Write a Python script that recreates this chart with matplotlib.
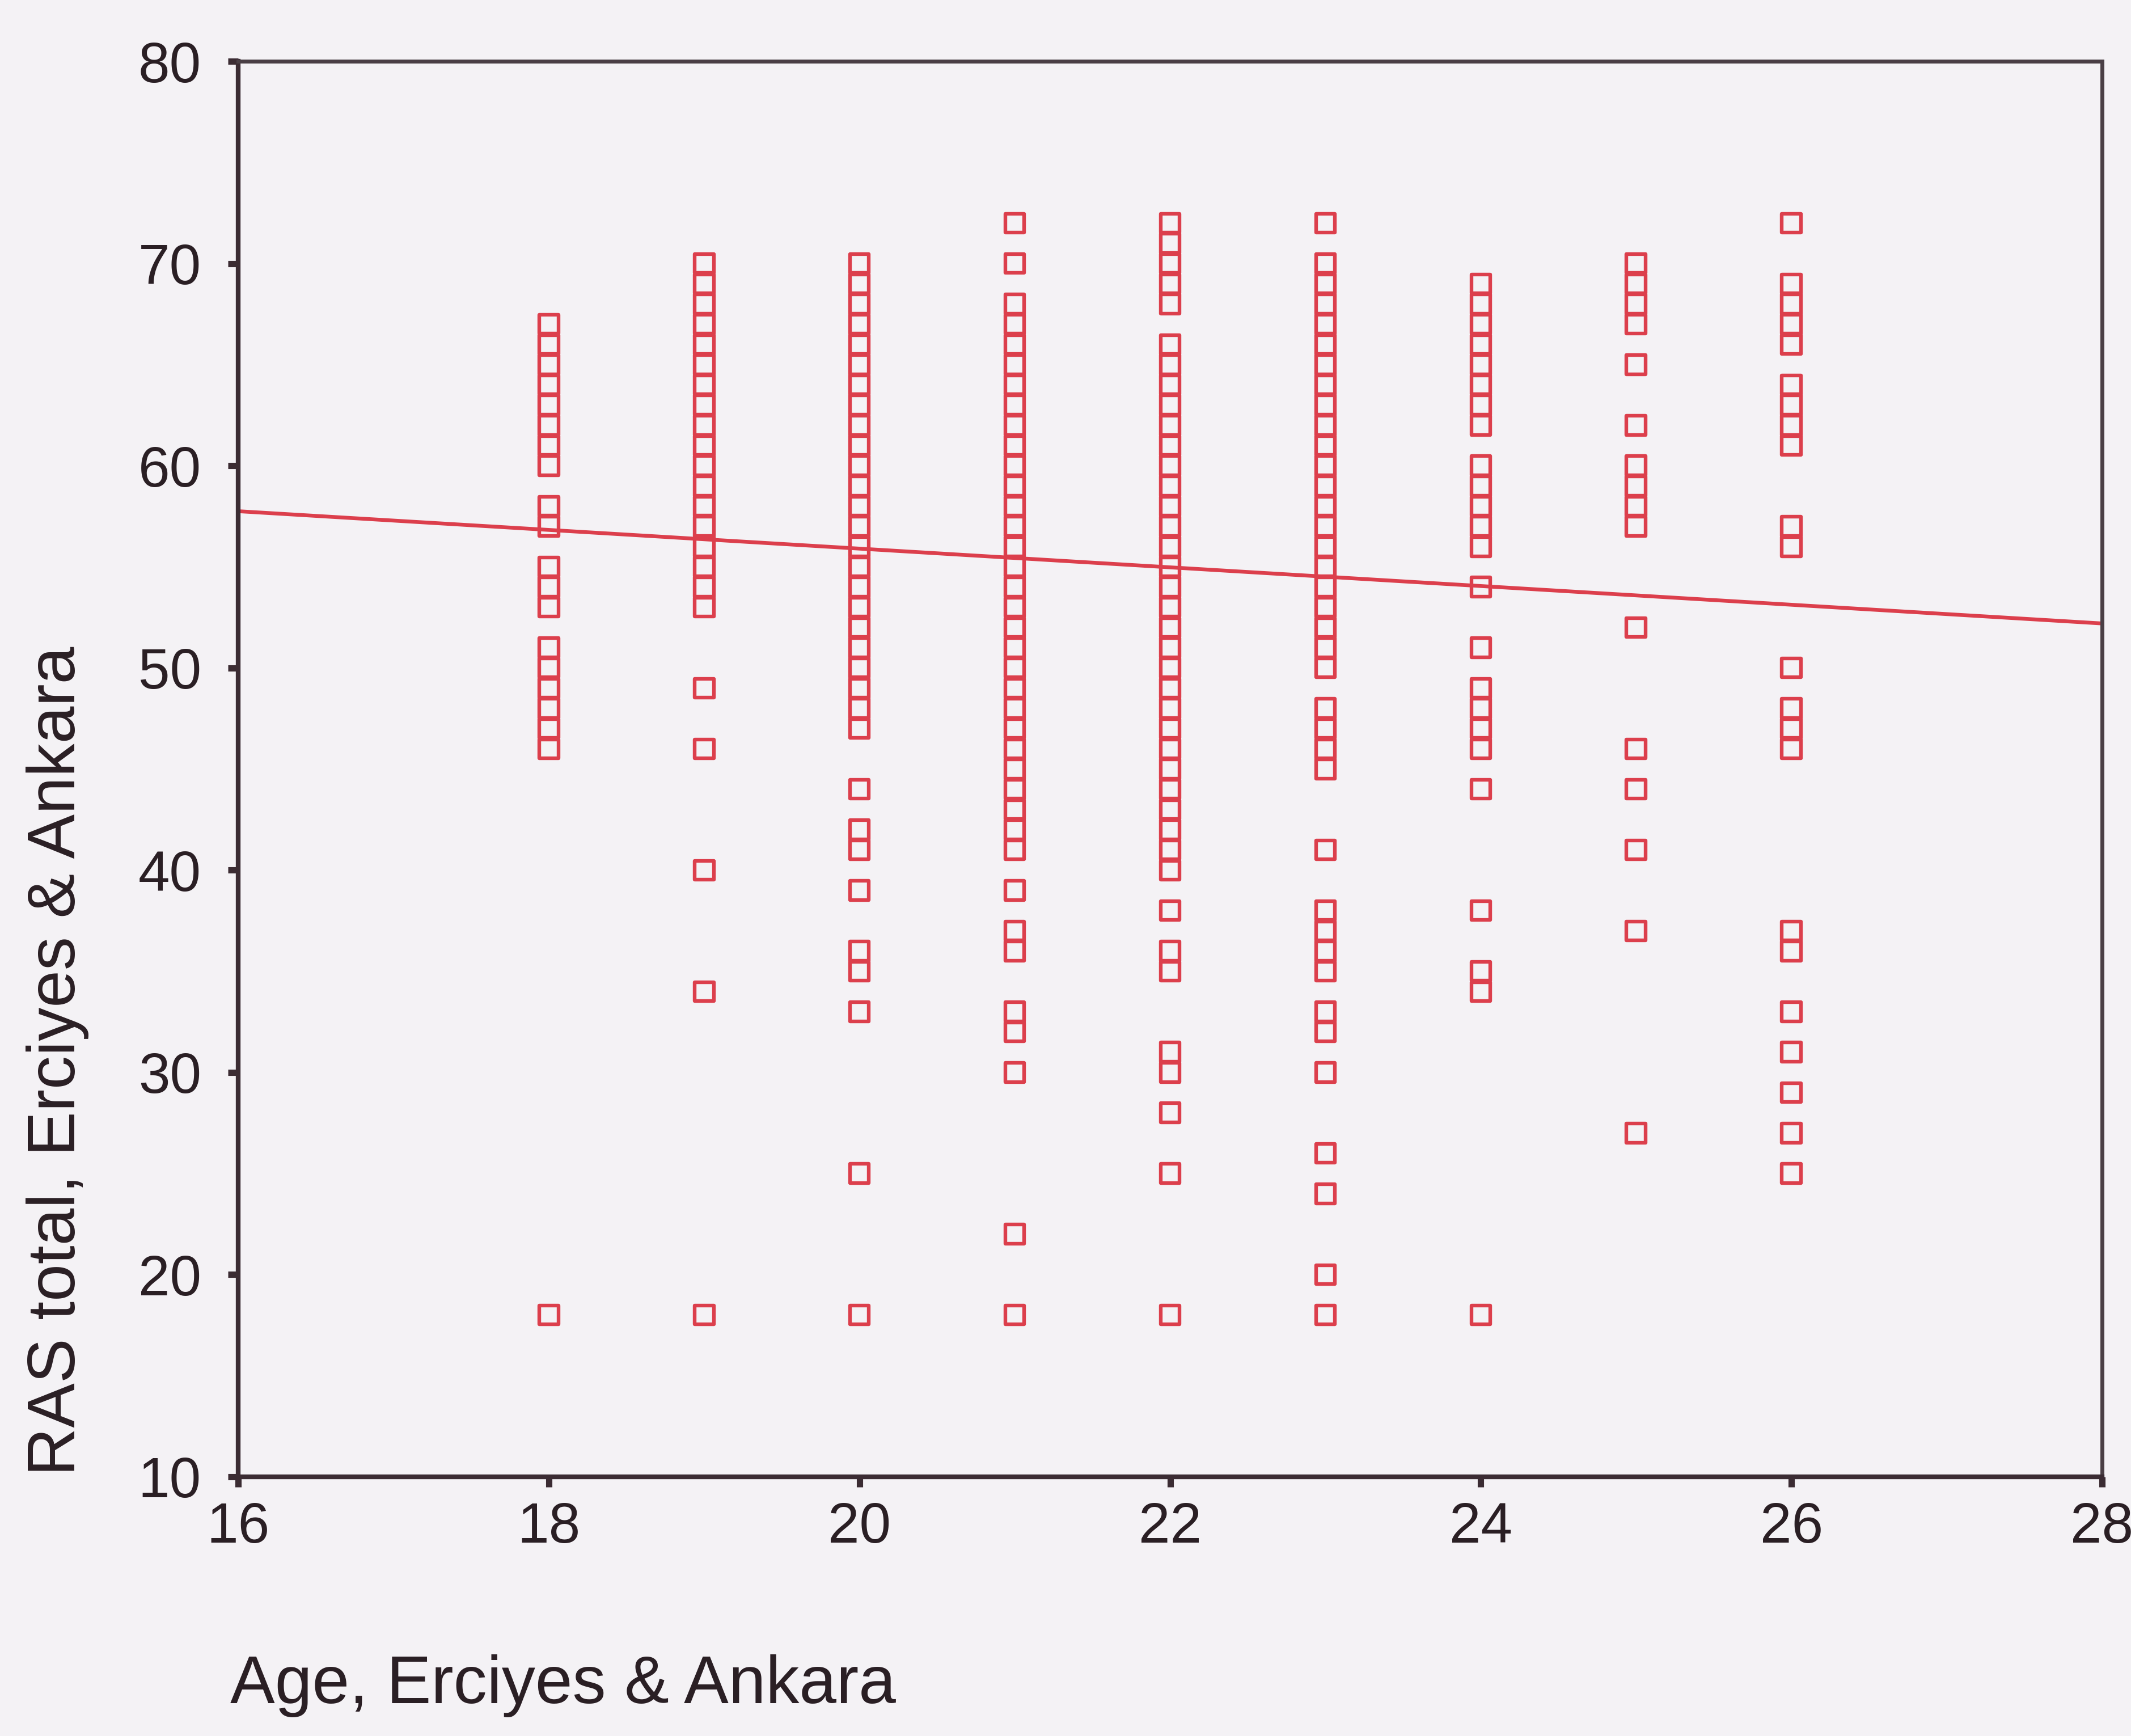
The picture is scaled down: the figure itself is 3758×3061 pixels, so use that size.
import matplotlib
matplotlib.use("Agg")
import matplotlib.pyplot as plt

# RAS total scores grouped by age (one list per age column)
ras_18 = [67, 66, 65, 64, 63, 62, 61, 60, 58, 57, 55, 54, 53, 51, 50, 49, 48, 47, 46, 18]
ras_19 = [70, 69, 68, 67, 66, 65, 64, 63, 62, 61, 60, 59, 58, 57, 56, 55, 54, 53,
          49, 46, 40, 34, 18]
ras_20 = [70, 69, 68, 67, 66, 65, 64, 63, 62, 61, 60, 59, 58, 57, 56, 55, 54, 53, 52, 51,
          50, 49, 48, 47, 44, 42, 41, 39, 36, 35, 33, 25, 18]
ras_21 = [72, 70, 68, 67, 66, 65, 64, 63, 62, 61, 60, 59, 58, 57, 56, 55, 54, 53, 52, 51,
          50, 49, 48, 47, 46, 45, 44, 43, 42, 41, 39, 37, 36, 33, 32, 30, 22, 18]
ras_22 = [72, 71, 70, 69, 68, 66, 65, 64, 63, 62, 61, 60, 59, 58, 57, 56, 55, 54, 53, 52,
          51, 50, 49, 48, 47, 46, 45, 44, 43, 42, 41, 40, 38, 36, 35, 31, 30, 28, 25, 18]
ras_23 = [72, 70, 69, 68, 67, 66, 65, 64, 63, 62, 61, 60, 59, 58, 57, 56, 55, 54, 53, 52,
          51, 50, 48, 47, 46, 45, 41, 38, 37, 36, 35, 33, 32, 30, 26, 24, 20, 18]
ras_24 = [69, 68, 67, 66, 65, 64, 63, 62, 60, 59, 58, 57, 56, 54, 51, 49, 48, 47, 46, 44,
          38, 35, 34, 18]
ras_25 = [70, 69, 68, 67, 65, 62, 60, 59, 58, 57, 52, 46, 44, 41, 37, 27]
ras_26 = [72, 69, 68, 67, 66, 64, 63, 62, 61, 57, 56, 50, 48, 47, 46, 37, 36, 33, 31, 29,
          27, 25]

ages = [18, 19, 20, 21, 22, 23, 24, 25, 26]
scores = [ras_18, ras_19, ras_20, ras_21, ras_22, ras_23, ras_24, ras_25, ras_26]

# fitted regression line, across the x range
fit_x = [16, 28]
fit_y = [57.75, 52.2]

x_ticks = [16, 18, 20, 22, 24, 26, 28]
y_ticks = [10, 20, 30, 40, 50, 60, 70, 80]

red = "#dc3f4c"
dark = "#3b2c33"
paper = "#f4f2f5"

plt.rcParams["font.family"] = ["Liberation Sans", "DejaVu Sans"]

fig = plt.figure(figsize=(37.58, 30.61), dpi=100, facecolor=paper)
ax = fig.add_axes([0.1118, 0.1493, 0.8746, 0.8154])
ax.set_facecolor(paper)

xs = []
ys = []
for age, vals in zip(ages, scores):
    xs += [age] * len(vals)
    ys += vals

ax.plot(fit_x, fit_y, color=red, lw=4.8, zorder=2)
ax.scatter(xs, ys, marker="s", s=580, facecolors="none", edgecolors=red,
           linewidths=4.6, zorder=3)

ax.set_xlim(16, 28)
ax.set_ylim(10, 80)
ax.set_xticks(x_ticks)
ax.set_yticks(y_ticks)
ax.tick_params(direction="out", length=13, width=8, color=dark,
               labelsize=72, labelcolor="#2a1f24")
ax.tick_params(axis="x", pad=18)
ax.tick_params(axis="y", pad=34)

for side in ["left", "bottom"]:
    ax.spines[side].set_linewidth(6)
    ax.spines[side].set_color(dark)
for side in ["top", "right"]:
    ax.spines[side].set_linewidth(5)
    ax.spines[side].set_color("#4a3f45")

fig.text(0.108, 0.029, "Age, Erciyes & Ankara", fontsize=85, color="#2a1f24",
         ha="left", va="center")
fig.text(0.027, 0.150, "RAS total, Erciyes & Ankara", fontsize=85, color="#2a1f24",
         rotation=90, ha="center", va="bottom")

fig.savefig("out.png", dpi=100, facecolor=paper)
